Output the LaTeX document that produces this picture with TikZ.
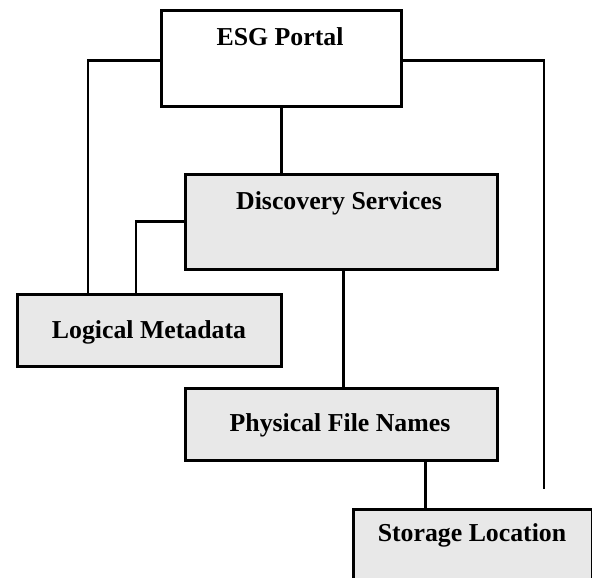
\documentclass[tikz,border=0pt]{standalone}
\usepackage{fontspec}
\setmainfont{Liberation Serif}
\definecolor{boxgray}{HTML}{E8E8E8}
\begin{document}
\begin{tikzpicture}[x=1pt,y=-1pt,
  box/.style={draw=black,line width=2.6pt,rectangle,inner sep=0pt,anchor=north west},
  lbl/.style={font=\fontsize{25.8}{29}\selectfont\bfseries,inner sep=0pt},
  conn/.style={line width=2.8pt}]
\useasboundingbox (0,0) rectangle (592,578);
% boxes
\node[box,fill=white,minimum width=240pt,minimum height=96pt] (esg) at (160,9) {};
\node[box,fill=boxgray,minimum width=312pt,minimum height=95pt] (ds) at (184,173) {};
\node[box,fill=boxgray,minimum width=264pt,minimum height=72pt] (lm) at (16,293) {};
\node[box,fill=boxgray,minimum width=312pt,minimum height=72pt] (pfn) at (184,387) {};
\node[box,fill=boxgray,minimum width=238.5pt,minimum height=90pt] (sl) at (352,508) {};
% labels
\node[lbl] (esgT) at (280,37) {ESG Portal};
\node[lbl] (dsT) at (339,203) {Discovery Services};
\node[lbl] (lmT) at (149,332) {Logical Metadata};
\node[lbl] (pfnT) at (340,425) {Physical File Names};
\node[lbl] (slT) at (472,535) {Storage Location};
% connectors
\coordinate (rend) at (544,489);
\draw[conn] ([yshift=-2pt]esg.west) -| ([xshift=72pt]lm.north west);
\draw[conn] (ds.west) -| ([xshift=120pt]lm.north west);
\draw[conn] (esg.south) -- (esg.south |- ds.north);
\draw[conn] ([xshift=2pt]ds.south) -- ([xshift=2pt]pfn.north);
\draw[conn] ([xshift=84pt]pfn.south) -- ([xshift=84pt]pfn.south |- sl.north);
\draw[conn] ([yshift=-2pt]esg.east) -| (rend);
\end{tikzpicture}
\end{document}
